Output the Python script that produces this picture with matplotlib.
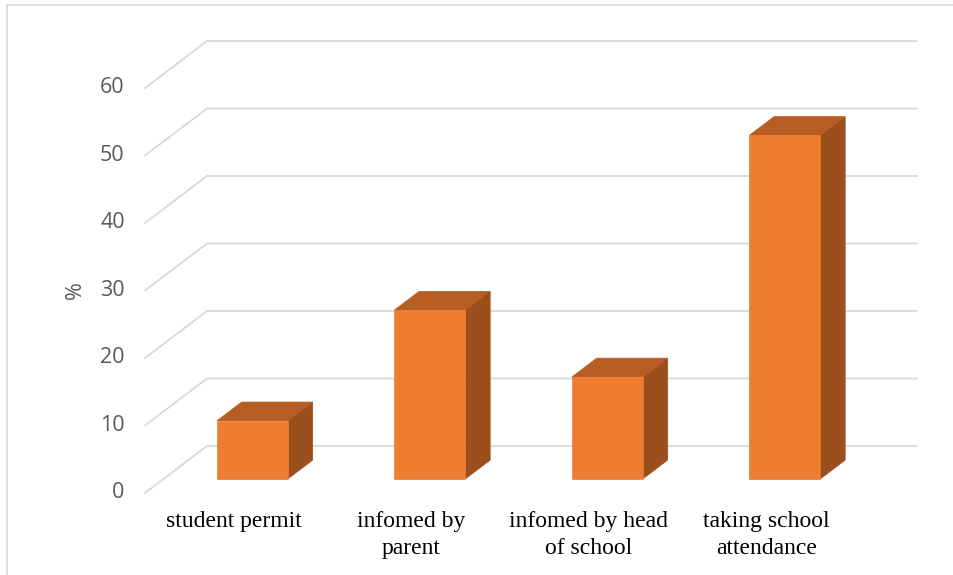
import matplotlib
matplotlib.use("Agg")
import matplotlib.pyplot as plt
from matplotlib.patches import Polygon, Rectangle

categories = ["student permit", "infomed by\nparent", "infomed by head\nof school",
              "taking school\nattendance"]
values = [8.6, 25.0, 15.1, 50.9]
yticks = [0, 10, 20, 30, 40, 50, 60]

FRONT = "#ED7D31"
TOP = "#B65D23"
SIDE = "#9A4F1D"
GRID = "#D9D9D9"

# oblique projection: depth d=0 is the back wall, d=1 the front edge of the floor
DX, DY = -0.349, -6.96


def proj(x, d, v):
    return (x + DX * d, v + DY * d)


fig = plt.figure(figsize=(9.54, 5.75), dpi=100)
ax = fig.add_axes([207 / 954, 129 / 575, 710 / 954, 405 / 575])
ax.set_xlim(0, len(categories))
ax.set_ylim(0, 60)
ax.axis("off")

# outer chart frame (only top and left edges fall inside the image)
fig.add_artist(Rectangle((7 / 954, -0.1), 1.2, 1.1 - 5.5 / 575, transform=fig.transFigure,
                         fill=False, edgecolor=GRID, lw=1.2))

# side-wall diagonals + back-wall gridlines
for v in yticks:
    pts = [proj(0, 1, v), proj(0, 0, v), proj(len(categories), 0, v)]
    ax.plot([p[0] for p in pts], [p[1] for p in pts], color=GRID, lw=1.3,
            clip_on=False, zorder=1, solid_joinstyle="miter")
    fx, fy = proj(0, 1, v)
    ax.text(fx - 0.115, fy, str(v), ha="right", va="center", fontsize=15.5,
            family="Open Sans", color="#595959")

ax.text(-0.744, 30 + DY, "%", rotation=90, ha="center", va="center",
        fontsize=15.5, family="Open Sans", color="#595959")

half = 0.2
d0, d1 = 0.3, 0.7
for i, (cat, v) in enumerate(zip(categories, values)):
    xc = i + 0.5
    x0, x1 = xc - half, xc + half
    side = [proj(x1, d1, 0), proj(x1, d0, 0), proj(x1, d0, v), proj(x1, d1, v)]
    top = [proj(x0, d1, v), proj(x1, d1, v), proj(x1, d0, v), proj(x0, d0, v)]
    front = [proj(x0, d1, 0), proj(x1, d1, 0), proj(x1, d1, v), proj(x0, d1, v)]
    for poly, col in ((side, SIDE), (top, TOP), (front, FRONT)):
        ax.add_patch(Polygon(poly, closed=True, facecolor=col, edgecolor=col,
                             lw=0.5, clip_on=False, zorder=3))
    lx, ly = proj(xc, 1, 0)
    ax.text(lx, ly - 2.6, cat, ha="center", va="top", multialignment="center",
            fontsize=17, family="Liberation Serif", color="black", linespacing=1.42)

fig.savefig("out.png", dpi=100)
